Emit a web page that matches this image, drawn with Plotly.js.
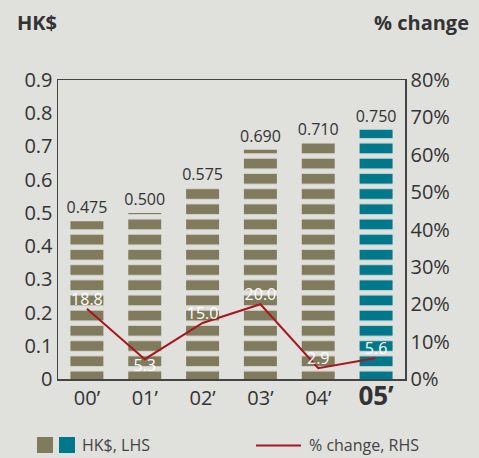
<!DOCTYPE html>
<html>
<head>
<meta charset="utf-8">
<script src="https://cdn.plot.ly/plotly-3.0.1.min.js"></script>
<style>html,body{margin:0;padding:0;background:#e0e0dc;}#chart{width:479px;height:458px;}</style>
</head>
<body>
<div id="chart"></div>
<script>
const categories = ["00’", "01’", "02’", "03’", "04’", "05’"];
const tickLabels = ["00’", "01’", "02’", "03’", "04’", "<b style='font-size:26px'>05’</b>"];
const dividends = [0.475, 0.500, 0.575, 0.690, 0.710, 0.750];
const dividendLabels = ["0.475", "0.500", "0.575", "0.690", "0.710", "0.750"];
const pctChange = [18.8, 5.3, 15.0, 20.0, 2.9, 5.6];
const pctLabels = ["18.8", "5.3", "15.0", "20.0", "2.9", "5.6"];
const pctLabelPos = ["top center", "bottom center", "top center", "top center", "top center", "top center"];
const barColors = ["#7f7b5c", "#7f7b5c", "#7f7b5c", "#7f7b5c", "#7f7b5c", "#00788b"];

const BG = "#e0e0dc";
const FONT = "Open Sans, Noto Sans, sans-serif";

const traces = [
  {
    type: "bar", x: categories, y: dividends,
    marker: {
      color: barColors, line: {width: 0},
      pattern: {shape: "-", size: 15.2, solidity: 0.65, fillmode: "replace", bgcolor: "#e7e7e2"}
    },
    text: dividendLabels, textposition: "outside", cliponaxis: false, constraintext: "none",
    textfont: {family: FONT, size: 16, color: "#333333"},
    hoverinfo: "skip", showlegend: false
  },
  {
    type: "scatter", mode: "lines+text", x: categories, y: pctChange, yaxis: "y2",
    line: {color: "#a8161f", width: 2},
    text: pctLabels, textposition: pctLabelPos,
    textfont: {family: FONT, size: 16, color: "#ffffff"},
    cliponaxis: false, showlegend: false, hoverinfo: "skip"
  }
];

const layout = {
  width: 479, height: 458,
  paper_bgcolor: BG, plot_bgcolor: BG,
  margin: {l: 58, r: 74, t: 80, b: 79},
  font: {family: FONT, color: "#333333"},
  bargap: 0.43,
  showlegend: false,
  xaxis: {
    type: "category", tickvals: categories, ticktext: tickLabels,
    tickfont: {size: 20, color: "#333333"}, ticks: "", showgrid: false,
    showline: true, linecolor: "#444444", linewidth: 1.5, mirror: true,
    fixedrange: true
  },
  yaxis: {
    range: [0, 0.9], tickvals: [0, 0.1, 0.2, 0.3, 0.4, 0.5, 0.6, 0.7, 0.8, 0.9],
    ticktext: ["0", "0.1", "0.2", "0.3", "0.4", "0.5", "0.6", "0.7", "0.8", "0.9"],
    tickfont: {size: 20, color: "#333333"}, ticks: "", showgrid: false, zeroline: false,
    showline: true, linecolor: "#444444", linewidth: 1.5, mirror: true,
    fixedrange: true
  },
  yaxis2: {
    overlaying: "y", side: "right", range: [0, 80],
    tickvals: [0, 10, 20, 30, 40, 50, 60, 70, 80],
    ticktext: ["0%", "10%", "20%", "30%", "40%", "50%", "60%", "70%", "80%"],
    tickfont: {size: 20, color: "#333333"}, ticks: "", showgrid: false, zeroline: false,
    showline: true, linecolor: "#444444", linewidth: 1.5,
    fixedrange: true
  },
  annotations: [
    {text: "<b>HK$</b>", xref: "paper", yref: "paper", x: -0.125, y: 1 + (80 - 23) / 299, xanchor: "left", yanchor: "middle",
     showarrow: false, font: {size: 20, color: "#333333", family: FONT}},
    {text: "<b>% change</b>", xref: "paper", yref: "paper", x: (471 - 58) / 347, y: 1 + (80 - 23) / 299, xanchor: "right", yanchor: "middle",
     showarrow: false, font: {size: 20, color: "#333333", family: FONT}},
    {text: "HK$, LHS", xref: "paper", yref: "paper", x: (80 - 58) / 347, y: -(445 - 379) / 299, xanchor: "left", yanchor: "middle",
     showarrow: false, font: {size: 16, color: "#444444", family: FONT}},
    {text: "% change, RHS", xref: "paper", yref: "paper", x: (307 - 58) / 347, y: -(445 - 379) / 299, xanchor: "left", yanchor: "middle",
     showarrow: false, font: {size: 16, color: "#444444", family: FONT}}
  ],
  shapes: [
    {type: "rect", xref: "paper", yref: "paper", x0: (37 - 58) / 347, x1: (53 - 58) / 347, y0: -(453 - 379) / 299, y1: -(437 - 379) / 299,
     fillcolor: barColors[0], line: {width: 0}},
    {type: "rect", xref: "paper", yref: "paper", x0: (59 - 58) / 347, x1: (75 - 58) / 347, y0: -(453 - 379) / 299, y1: -(437 - 379) / 299,
     fillcolor: barColors[5], line: {width: 0}},
    {type: "line", xref: "paper", yref: "paper", x0: (256 - 58) / 347, x1: (301 - 58) / 347, y0: -(445.5 - 379) / 299, y1: -(445.5 - 379) / 299,
     line: {color: "#a8161f", width: 2}}
  ]
};

Plotly.newPlot("chart", traces, layout, {displayModeBar: false, staticPlot: true});
</script>
</body>
</html>
